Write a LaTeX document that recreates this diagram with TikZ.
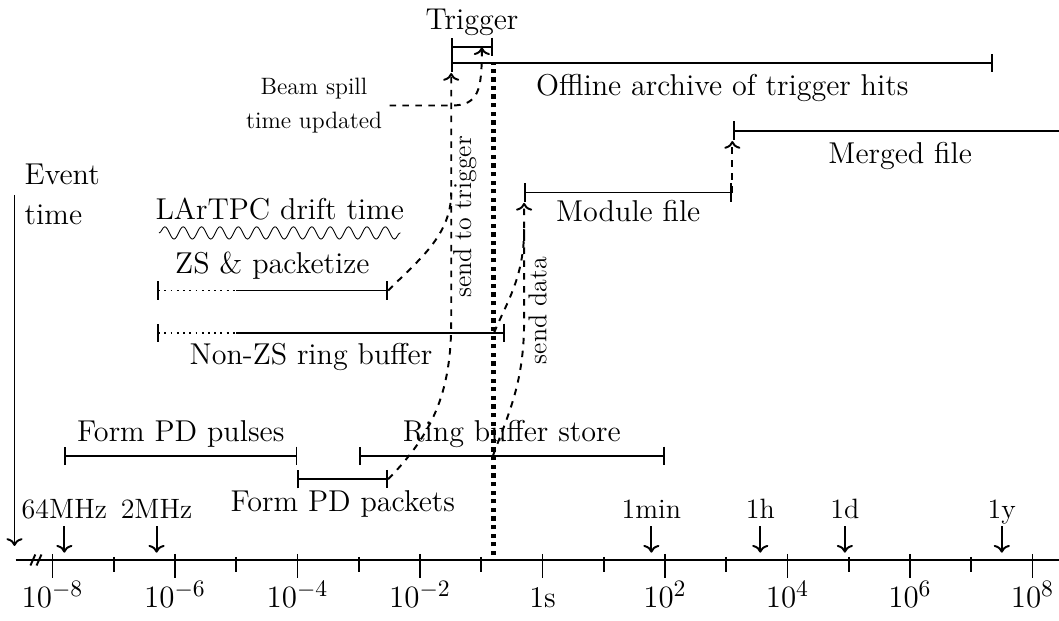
\documentclass[tikz,border=0pt]{standalone}
\usepackage{tikz}
\usetikzlibrary{arrows.meta, positioning, decorations.pathmorphing}
\usepackage{amsmath}
\DeclareMathSizes{14}{14}{11}{8}

\begin{document}
\begin{tikzpicture}[
  every node/.style={font=\fontsize{14}{17}\selectfont},
  smalltext/.style={font=\fontsize{11}{15.5}\selectfont},
  sidetext/.style={font=\fontsize{12}{14}\selectfont, rotate=90},
  span/.style={line width=0.9pt, {Bar[width=3mm]}-{Bar[width=3mm]}},
  hop/.style={line width=0.9pt, dashed, ->},
  freq/.style={above, inner sep=1pt, text depth=0.25em, font=\fontsize{13}{16}\selectfont}
]
\useasboundingbox (-8.857,-0.98) rectangle (8.433,9.143);

% time axis, one unit per decade
\coordinate (axL) at (-8.6,0);
\coordinate (axR) at (8.7,0);
\draw[line width=0.9pt] (axL) -- (axR);
\draw[line width=0.9pt] (-8.36,-0.09) -- (-8.28,0.09) (-8.26,-0.09) -- (-8.18,0.09);
\foreach \e in {-8,-6,...,8} {
  \draw[line width=0.9pt] (\e,0.1) -- (\e,-0.3);
  \ifnum\e=0
    \node[anchor=base] (dec\e) at (\e,-0.78) {1s};
  \else
    \node[anchor=base] (dec\e) at (\e,-0.78) {$10^{\e}$};
  \fi
}
\foreach \e in {-7,-5,...,7}
  \draw[line width=0.9pt] (\e,0.05) -- (\e,-0.2);

\foreach \x/\t/\n in {-7.806/64MHz/a, -6.301/2MHz/b, 1.778/1min/c, 3.556/1h/d, 4.937/1d/e, 7.499/1y/f} {
  \node[freq] (fq\n) at (\x,0.55) {\t};
  \coordinate (fqtip\n) at (\x,0.12);
  \draw[line width=0.9pt,->] (fq\n.south) -- (fqtip\n);
}

\coordinate (evtop) at (-8.62,5.96);
\coordinate (evbot) at (-8.62,0.23);
\draw[line width=0.9pt,->] (evtop) -- (evbot);
\node[anchor=north west, align=left, inner sep=0, font=\fontsize{14}{18.5}\selectfont] (evlbl) at (-8.46,6.47) {Event\\time};

\coordinate (dtB) at (-0.8,0.08);
\coordinate (dtT) at (-0.8,8.1);
\draw[line width=2pt, dotted] (dtB) -- (dtT);

% photon detector
\coordinate (pulA) at (-7.81,1.70);
\coordinate (pulB) at (-4,1.70);
\draw[span] (pulA) -- node[above] (pullbl) {Form PD pulses} (pulB);
\coordinate (pktA) at (-4,1.32);
\coordinate (pktB) at (-2.52,1.32);
\draw[span] (pktA) -- node[below=0.5mm] (pktlbl) {Form PD packets} (pktB);
\coordinate (rbA) at (-3,1.70);
\coordinate (rbB) at (2,1.70);
\draw[span] (rbA) -- node[above] (rblbl) {Ring buffer store} (rbB);

% TPC
\coordinate (zsA) at (-6.3,4.40);
\coordinate (zsM) at (-5,4.40);
\coordinate (zsB) at (-2.52,4.40);
\draw[line width=0.9pt, dotted, {Bar[width=3mm]}-] (zsA) -- (zsM);
\draw[line width=0.9pt, -{Bar[width=3mm]}] (zsM) -- (zsB);
\path (zsA) -- node[above=0.5mm] (zslbl) {ZS \& packetize} (zsB);
\coordinate (nzA) at (-6.3,3.71);
\coordinate (nzM) at (-5,3.71);
\coordinate (nzB) at (-0.62,3.71);
\draw[line width=0.9pt, dotted, {Bar[width=3mm]}-] (nzA) -- (nzM);
\draw[line width=0.9pt, -{Bar[width=3mm]}] (nzM) -- (nzB);
\node[below=0.5mm] (nzlbl) at (-3.78,3.71) {Non-ZS ring buffer};
\coordinate (drA) at (-6.26,5.34);
\coordinate (drB) at (-2.32,5.34);
\draw[decorate, decoration={snake, segment length=3mm, amplitude=1mm}] (drA) -- (drB);
\path (drA) -- node[above=0.8mm] (drlbl) {LArTPC drift time} (drB);

% files and trigger
\coordinate (modA) at (-0.30,6.0);
\coordinate (modB) at (3.1,6.0);
\draw[span] (modA) -- node[below] (modlbl) {Module file} (modB);
\coordinate (mrgA) at (3.11,7.01);
\coordinate (mrgB) at (8.57,7.01);
\draw[span] (mrgA) -- node[below=0.5mm] (mrglbl) {Merged file} (mrgB);
\coordinate (arcA) at (-1.49,8.11);
\coordinate (arcB) at (7.36,8.11);
\draw[span] (arcA) -- node[below=0.5mm] (arclbl) {Offline archive of trigger hits} (arcB);
\coordinate (trgA) at (-1.49,8.38);
\coordinate (trgB) at (-0.81,8.38);
\draw[span] (trgA) -- node[above=0.5mm] (trglbl) {Trigger} (trgB);

\node[smalltext, align=center] (bs) at (-3.73,7.42) {Beam spill\\time updated};
\coordinate (tgtip) at (-0.99,8.37);
\draw[hop] (bs.east) -- (bs.east -| arcA) .. controls +(0.45,0) and +(0,-0.7) .. (tgtip);

% dashed hand-offs
\coordinate (tjoin) at (-1.49,3.9);
\coordinate (tjoin2) at (-1.49,6.0);
\coordinate (trgtip) at (-1.49,7.95);
\draw[hop] (pktB) .. controls +(0.77,0.78) and +(0,-1.1) .. (tjoin) -- (trgtip);
\draw[line width=0.9pt, dashed] (zsB) .. controls +(0.5,0.5) and +(0,-0.7) .. (tjoin2);
\node[sidetext] (sndtrg) at (-1.27,5.6) {send to trigger};

\coordinate (rbX) at (-0.81,1.70);
\coordinate (nzX) at (-0.79,3.71);
\coordinate (djoin) at (-0.30,3.9);
\coordinate (djoin2) at (-0.30,5.4);
\coordinate (modtip) at (-0.30,5.83);
\draw[hop] (rbX) .. controls +(0.26,0.7) and +(0,-1.0) .. (djoin) -- (modtip);
\draw[line width=0.9pt, dashed] (nzX) .. controls +(0.19,0.47) and +(0,-0.8) .. (djoin2);
\node[sidetext] (snddat) at (-0.08,4.07) {send data};

\coordinate (mrgtip) at (3.1,6.84);
\draw[hop] (modB) -- (mrgtip);
\end{tikzpicture}
\end{document}
